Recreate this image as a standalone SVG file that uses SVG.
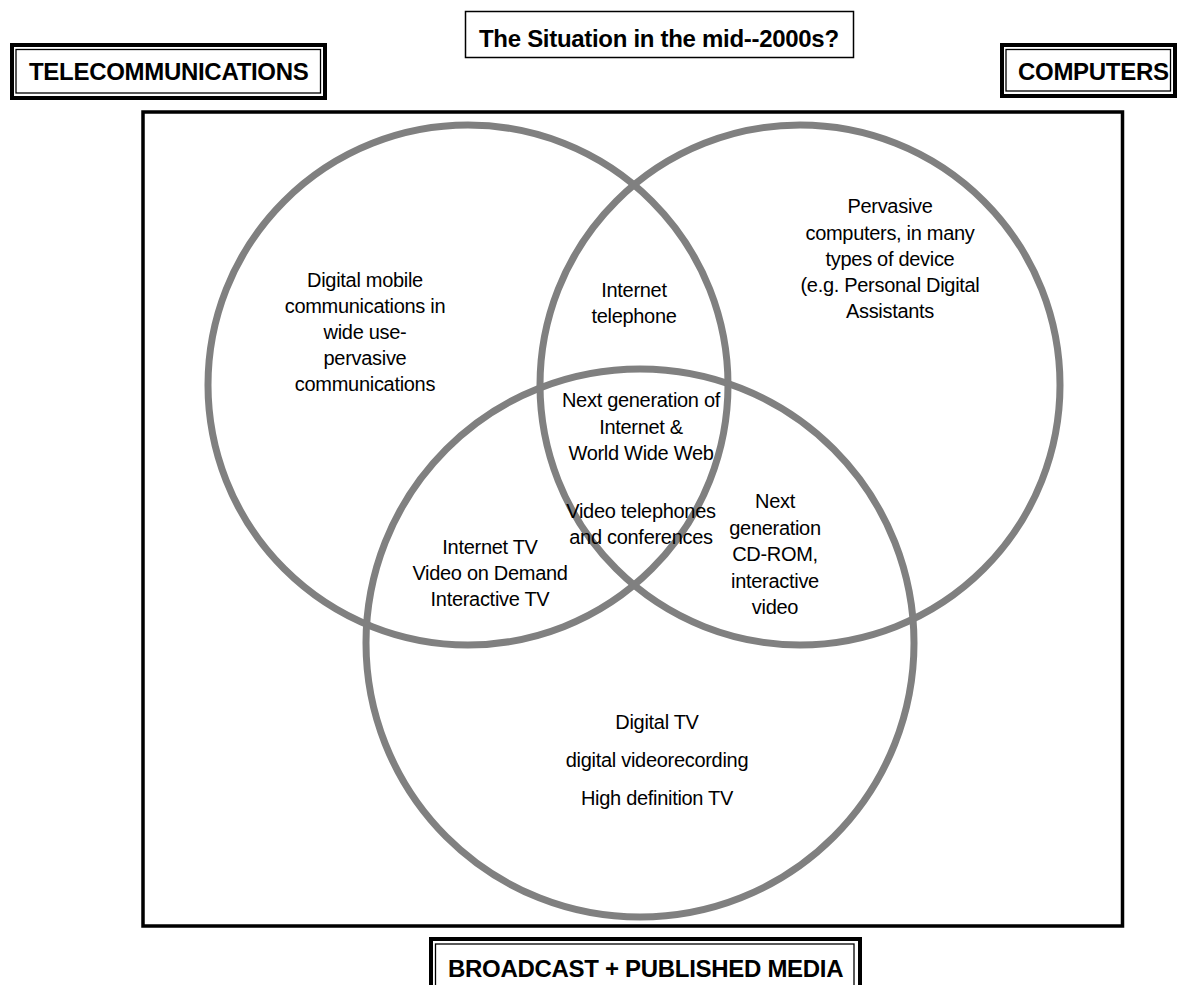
<svg xmlns="http://www.w3.org/2000/svg" width="1178" height="985" viewBox="0 0 1178 985">
<style>
.hd{font-family:"Liberation Sans",Arial,sans-serif;font-weight:bold;font-size:24px;letter-spacing:-0.3px;fill:#000}
.bd{font-family:"Liberation Sans",Arial,sans-serif;font-size:20px;letter-spacing:-0.3px;fill:#000;text-anchor:middle}
.outer{fill:none;stroke:#000;stroke-width:4}
.inner{fill:none;stroke:#000;stroke-width:1.3}
.circ{fill:none;stroke:#808080;stroke-width:7}
</style>
<rect x="0" y="0" width="1178" height="985" fill="#fff"/>
<g id="title">
<rect x="465.5" y="11.5" width="388" height="46" fill="#fff" stroke="#000" stroke-width="1.5"/>
<text class="hd" x="479" y="47">The Situation in the mid--2000s?</text>
</g>
<g id="telecom-label">
<rect class="outer" x="12" y="45" width="313" height="53"/>
<rect class="inner" x="16" y="49.5" width="304.5" height="43.5"/>
<text class="hd" x="29" y="80">TELECOMMUNICATIONS</text>
</g>
<g id="computers-label">
<rect class="outer" x="1002" y="45" width="173" height="51"/>
<rect class="inner" x="1006" y="49.5" width="164.5" height="41.5"/>
<text class="hd" x="1018" y="80">COMPUTERS</text>
</g>
<g id="frame">
<rect x="143" y="112" width="979.5" height="814" fill="none" stroke="#000" stroke-width="3.5"/>
</g>
<g id="circles">
<circle id="telecom" class="circ" cx="468" cy="385" r="260"/>
<circle id="computers" class="circ" cx="800" cy="385" r="260"/>
<circle id="media" class="circ" cx="640" cy="643" r="274"/>
</g>
<g id="media-label">
<rect class="outer" x="431" y="939" width="429" height="70"/>
<rect class="inner" x="435.5" y="944" width="418.5" height="60"/>
<text class="hd" x="448" y="977">BROADCAST + PUBLISHED MEDIA</text>
</g>
<g id="t-telecom">
<text class="bd" x="365" y="287">Digital mobile</text>
<text class="bd" x="365" y="313">communications in</text>
<text class="bd" x="365" y="339">wide use-</text>
<text class="bd" x="365" y="365">pervasive</text>
<text class="bd" x="365" y="391">communications</text>
</g>
<g id="t-internet-tel">
<text class="bd" x="634" y="297">Internet</text>
<text class="bd" x="634" y="323">telephone</text>
</g>
<g id="t-computers">
<text class="bd" x="890" y="213">Pervasive</text>
<text class="bd" x="890" y="240">computers, in many</text>
<text class="bd" x="890" y="266">types of device</text>
<text class="bd" x="890" y="292">(e.g. Personal Digital</text>
<text class="bd" x="890" y="318">Assistants</text>
</g>
<g id="t-center">
<text class="bd" x="641" y="407">Next generation of</text>
<text class="bd" x="641" y="434">Internet &amp;</text>
<text class="bd" x="641" y="460">World Wide Web</text>
<text class="bd" x="641" y="518">Video telephones</text>
<text class="bd" x="641" y="544">and conferences</text>
</g>
<g id="t-internet-tv">
<text class="bd" x="490" y="554">Internet TV</text>
<text class="bd" x="490" y="580">Video on Demand</text>
<text class="bd" x="490" y="606">Interactive TV</text>
</g>
<g id="t-cdrom">
<text class="bd" x="775" y="508">Next</text>
<text class="bd" x="775" y="535">generation</text>
<text class="bd" x="775" y="561">CD-ROM,</text>
<text class="bd" x="775" y="588">interactive</text>
<text class="bd" x="775" y="614">video</text>
</g>
<g id="t-media">
<text class="bd" x="657" y="729">Digital TV</text>
<text class="bd" x="657" y="767">digital videorecording</text>
<text class="bd" x="657" y="805">High definition TV</text>
</g>
</svg>
